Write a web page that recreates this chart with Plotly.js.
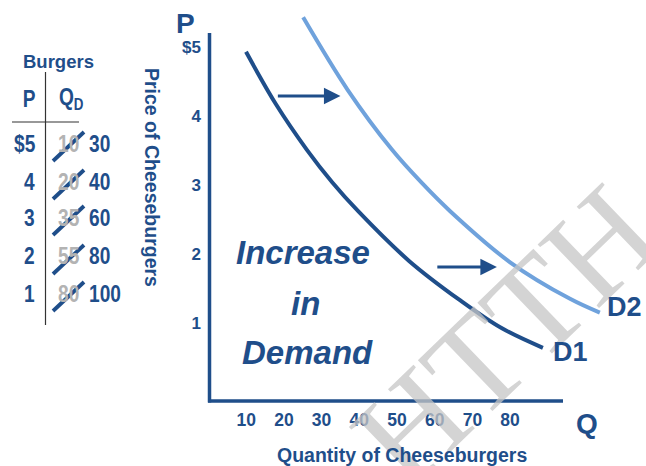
<!DOCTYPE html>
<html>
<head>
<meta charset="utf-8">
<script src="https://cdn.plot.ly/plotly-3.0.1.min.js"></script>
<style>
html,body{margin:0;padding:0;background:#fff;}
#chart{width:646px;height:466px;}
</style>
</head>
<body>
<div id="chart"></div>
<script>
// ---- Data ----
// Original demand curve D1 (quantity, price)
const d1Q = [9.95, 17.9, 26.1, 32.8, 39.7, 53.2, 66.7, 77.6, 88.7];
const d1P = [4.93, 4.17, 3.51, 3.04, 2.62, 1.90, 1.33, 0.93, 0.64];
// Shifted demand curve D2
const d2Q = [25.1, 36.9, 48.7, 56.4, 64.1, 80.0, 95.9, 103.8];
const d2P = [5.43, 4.38, 3.51, 3.04, 2.62, 1.88, 1.35, 1.15];
// Axis ticks
const xTicks = [10, 20, 30, 40, 50, 60, 70, 80];
const yTicks = [1, 2, 3, 4, 5];
const yTickText = ['1', '2', '3', '4', '$5'];
// Shift arrows: price level, start quantity, end quantity
const arrowP = [4.29, 1.81];
const arrowQ0 = [18.0, 60.3];
const arrowQ1 = [35.0, 76.5];
// Schedule table (Burgers)
const tablePrice = ['$5', '4', '3', '2', '1'];
const tableOldQ = ['10', '20', '35', '55', '80'];
const tableNewQ = ['30', '40', '60', '80', '100'];

// ---- Styling ----
const DARK = '#1f4e8a';
const LIGHT = '#6fa2dc';
const GRAY = '#b3b3b3';
const FONT = 'Liberation Sans, Arial, sans-serif';

const L = 208, T = 10, W = 412, H = 391;
function px(x) { return (x - L) / W; }
function py(y) { return (T + H - y) / H; }

const traces = [
  {x: d1Q, y: d1P, mode: 'lines', line: {color: DARK, width: 4, shape: 'spline', smoothing: 1}, hoverinfo: 'skip'},
  {x: d2Q, y: d2P, mode: 'lines', line: {color: LIGHT, width: 4, shape: 'spline', smoothing: 1}, hoverinfo: 'skip'}
];

const ann = [];
function txt(x, y, text, size, color, opts) {
  ann.push(Object.assign({xref: 'paper', yref: 'paper', x: px(x), y: py(y), text: text,
    showarrow: false, xanchor: 'center', yanchor: 'middle',
    font: {family: FONT, size: size, color: color, weight: 'bold'}}, opts || {}));
}

// Watermark
ann.push({xref: 'paper', yref: 'paper', x: px(505), y: py(335), text: 'HTTH', showarrow: false,
  textangle: -44, xanchor: 'center', yanchor: 'middle', opacity: 0.75,
  font: {family: 'Liberation Serif, DejaVu Serif, serif', size: 135, color: '#c6c6c6'}});

// Axis letters and titles
txt(185, 24, 'P', 28, DARK);
txt(587, 423, 'Q', 28, DARK);
txt(152, 177, 'Price of Cheeseburgers', 19.5, DARK, {textangle: 90});
txt(402, 455, 'Quantity of Cheeseburgers', 19.5, DARK);
txt(570, 352, 'D1', 27, DARK);
txt(624, 307, 'D2', 27, DARK);

// Big label
const bigFont = {family: FONT, size: 33, color: DARK, weight: 'bold', style: 'italic'};
ann.push({xref: 'paper', yref: 'paper', x: px(303), y: py(253), text: 'Increase', showarrow: false, xanchor: 'center', yanchor: 'middle', font: bigFont});
ann.push({xref: 'paper', yref: 'paper', x: px(305), y: py(303), text: 'in', showarrow: false, xanchor: 'center', yanchor: 'middle', font: bigFont});
ann.push({xref: 'paper', yref: 'paper', x: px(307), y: py(352), text: 'Demand', showarrow: false, xanchor: 'center', yanchor: 'middle', font: bigFont});

// Arrows
for (let i = 0; i < arrowP.length; i++) {
  ann.push({xref: 'x', yref: 'y', axref: 'x', ayref: 'y', x: arrowQ1[i], y: arrowP[i], ax: arrowQ0[i], ay: arrowP[i],
    text: '', showarrow: true, arrowhead: 2, arrowsize: 1.1, arrowwidth: 3, arrowcolor: DARK, standoff: 0, startstandoff: 0});
}

// Table
txt(58, 61, 'Burgers', 18.5, DARK);
const narrow = [];  // [annotation index, anchor]
const tf = (c) => ({family: FONT, size: 24.5, color: c, weight: 'bold'});
function ntxt(x, y, text, color, anchor) {
  narrow.push([ann.length, anchor]);
  ann.push({xref: 'paper', yref: 'paper', x: px(x), y: py(y), text: text, showarrow: false,
    xanchor: anchor, yanchor: 'middle', font: tf(color)});
}
ntxt(29, 98, 'P', DARK, 'center');
ntxt(57, 98, 'Q<sub>D</sub>', DARK, 'left');
const rowY = [143, 181, 217, 256, 293];
const shapes = [];
for (let i = 0; i < tablePrice.length; i++) {
  ntxt(37, rowY[i], tablePrice[i], DARK, 'right');
  ntxt(68, rowY[i], tableOldQ[i], GRAY, 'center');
  ntxt(87, rowY[i], tableNewQ[i], DARK, 'left');
  shapes.push({type: 'line', xref: 'paper', yref: 'paper', x0: px(53), y0: py(rowY[i] + 18), x1: px(84), y1: py(rowY[i] - 11),
    line: {color: DARK, width: 3.8}});
}
shapes.push({type: 'line', xref: 'paper', yref: 'paper', x0: px(45.5), y0: py(72), x1: px(45.5), y1: py(325), line: {color: '#333333', width: 1.2}});
shapes.push({type: 'line', xref: 'paper', yref: 'paper', x0: px(12), y0: py(122), x1: px(79), y1: py(122), line: {color: '#333333', width: 1.2}});

// Axis lines
shapes.push({type: 'line', xref: 'paper', yref: 'paper', x0: px(209.5), y0: py(33), x1: px(209.5), y1: py(402.5), line: {color: DARK, width: 3.5}});
shapes.push({type: 'line', xref: 'paper', yref: 'paper', x0: px(208), y0: py(401), x1: px(563), y1: py(401), line: {color: DARK, width: 3.5}});

const layout = {
  width: 646, height: 466,
  margin: {l: L, r: 646 - L - W, t: T, b: 466 - T - H, pad: 0},
  paper_bgcolor: '#ffffff', plot_bgcolor: 'rgba(0,0,0,0)',
  showlegend: false,
  xaxis: {range: [(L - 208.5) / 3.77, (L + W - 208.5) / 3.77], tickvals: xTicks, ticktext: xTicks.map(String),
    showgrid: false, zeroline: false, showline: false, ticks: '', ticklabelstandoff: 6,
    tickfont: {family: FONT, size: 17.5, color: DARK, weight: 'bold'}, fixedrange: true},
  yaxis: {range: [(392 - (T + H)) / 69, (392 - T) / 69], tickvals: yTicks, ticktext: yTickText,
    showgrid: false, zeroline: false, showline: false, ticks: '', ticklabelstandoff: 6,
    tickfont: {family: FONT, size: 17, color: DARK, weight: 'bold'}, fixedrange: true},
  annotations: ann,
  shapes: shapes
};

Plotly.newPlot('chart', traces, layout, {displayModeBar: false, staticPlot: true}).then(function (gd) {
  // Condense the table lettering (the source uses a narrow typeface)
  narrow.forEach(function (item) {
    const g = gd.querySelector('g.annotation[data-index="' + item[0] + '"]');
    if (!g) return;
    const t = g.querySelector('text');
    if (!t) return;
    const bb = t.getBBox();
    const cx = item[1] === 'left' ? bb.x : (item[1] === 'right' ? bb.x + bb.width : bb.x + bb.width / 2);
    const prev = t.getAttribute('transform') || '';
    t.setAttribute('transform', prev + ' translate(' + cx + ',0) scale(0.78,1) translate(' + (-cx) + ',0)');
  });
});
</script>
</body>
</html>
